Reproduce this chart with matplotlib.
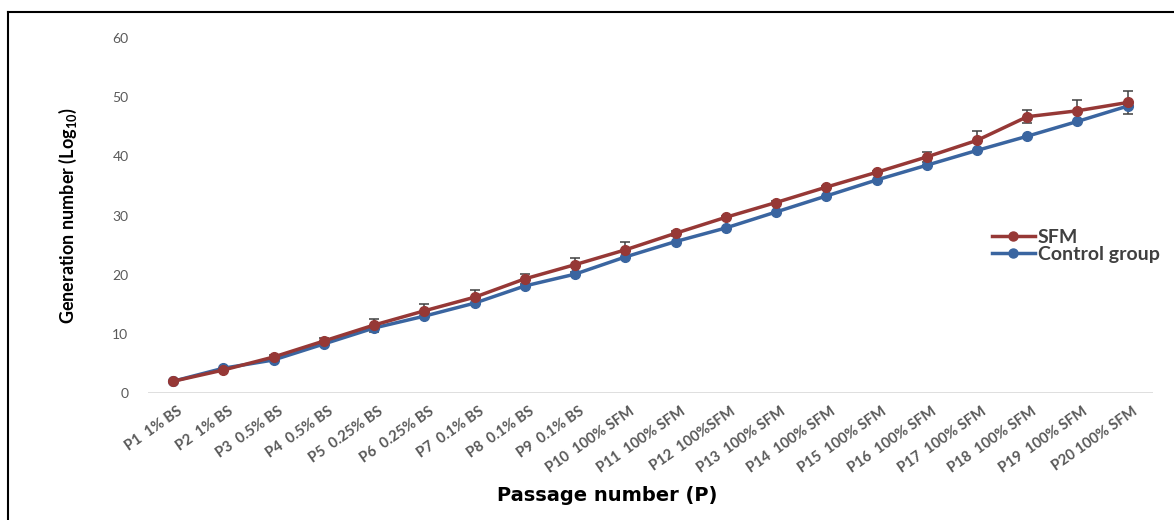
import matplotlib
matplotlib.use("Agg")
import matplotlib.pyplot as plt
from matplotlib.lines import Line2D
from matplotlib.transforms import ScaledTranslation

# passages and culture medium labels
passages = list(range(1, 21))
tick_labels = [
    "P1  1% BS", "P2  1% BS", "P3  0.5% BS", "P4  0.5% BS", "P5  0.25% BS",
    "P6  0.25% BS", "P7  0.1% BS", "P8  0.1% BS", "P9  0.1% BS",
    "P10  100% SFM", "P11  100% SFM", "P12  100%SFM", "P13  100% SFM",
    "P14  100% SFM", "P15  100% SFM", "P16  100% SFM", "P17  100% SFM",
    "P18  100% SFM", "P19  100% SFM", "P20 100% SFM",
]

# generation number (log10)
sfm = [2.0, 3.9, 6.1, 8.8, 11.5, 13.9, 16.2, 19.3, 21.7, 24.2,
       27.0, 29.7, 32.2, 34.8, 37.3, 39.9, 42.7, 46.7, 47.7, 49.1]
sfm_err = [0.0, 0.2, 0.4, 0.5, 1.1, 1.1, 1.3, 0.9, 1.2, 1.3,
           0.4, 0.3, 0.2, 0.2, 0.3, 0.9, 1.6, 1.1, 1.9, 2.0]
control = [2.0, 4.2, 5.6, 8.3, 11.0, 13.0, 15.2, 18.1, 20.1, 23.0,
           25.6, 27.9, 30.6, 33.3, 36.0, 38.5, 41.0, 43.4, 45.9, 48.5]

red = "#963836"
blue = "#3a65a0"
grey_txt = "#595959"

fig = plt.figure(figsize=(11.74, 5.2), dpi=100)
ax = fig.add_axes([0.126, 0.244, 0.856, 0.683])

ax.errorbar(passages, sfm, yerr=sfm_err, fmt="none", ecolor="#404040",
            elinewidth=1.1, capsize=3.5, capthick=1.1, zorder=2)
ax.plot(passages, control, color=blue, lw=2.5, marker="o", ms=7, zorder=3)
ax.plot(passages, sfm, color=red, lw=2.5, marker="o", ms=7, zorder=4)

ax.set_xlim(0.5, 20.5)
ax.set_ylim(0, 60)
ax.set_yticks(range(0, 61, 10))
for s in ax.spines.values():
    s.set_visible(False)
ax.axhline(0, color="#d9d9d9", lw=1.2, zorder=1)
ax.tick_params(axis="both", length=0)
ax.tick_params(axis="y", pad=14, labelsize=10, labelcolor=grey_txt)
for lab in ax.get_yticklabels():
    lab.set_family(["Lato", "DejaVu Sans"])

ax.set_xticks(passages)
ax.set_xticklabels(tick_labels, rotation=35, ha="right", va="top",
                   rotation_mode="anchor", fontsize=10.5, color=grey_txt,
                   fontweight="bold", family=["Lato", "DejaVu Sans"])
ax.tick_params(axis="x", pad=8)
shift = ScaledTranslation(4 / 100, 0, fig.dpi_scale_trans)
for lab in ax.get_xticklabels():
    lab.set_transform(lab.get_transform() + shift)

ax.set_xlabel("Passage number (P)", fontsize=14, fontweight="bold",
              family="DejaVu Sans")
ax.xaxis.set_label_coords((607 - 148) / 1005, -0.262)
ax.set_ylabel("Generation number (Log$_{\\mathregular{10}}$)", fontsize=13,
              fontweight="bold", family=["Lato", "DejaVu Sans"])
ax.yaxis.set_label_coords(-0.069, 0.5)

handles = [Line2D([], [], color=red, lw=2.5, marker="o", ms=6.5),
           Line2D([], [], color=blue, lw=2.5, marker="o", ms=6.5)]
leg = ax.legend(handles, ["SFM", "Control group"], loc="upper left",
                bbox_to_anchor=(0.840, 0.462), frameon=False,
                handlelength=2.2, handletextpad=0.15, labelspacing=0.0,
                borderaxespad=0, borderpad=0,
                prop={"family": ["Lato", "DejaVu Sans"], "weight": "bold", "size": 14})
for t in leg.get_texts():
    t.set_color("#404040")

# outer frame, only top and left edges are visible
fig.add_artist(Line2D([8 / 1174, 8 / 1174], [0, 1 - 12 / 520], color="black", lw=1.5))
fig.add_artist(Line2D([8 / 1174, 1], [1 - 12 / 520, 1 - 12 / 520], color="black", lw=1.5))

fig.savefig("out.png", dpi=100)
